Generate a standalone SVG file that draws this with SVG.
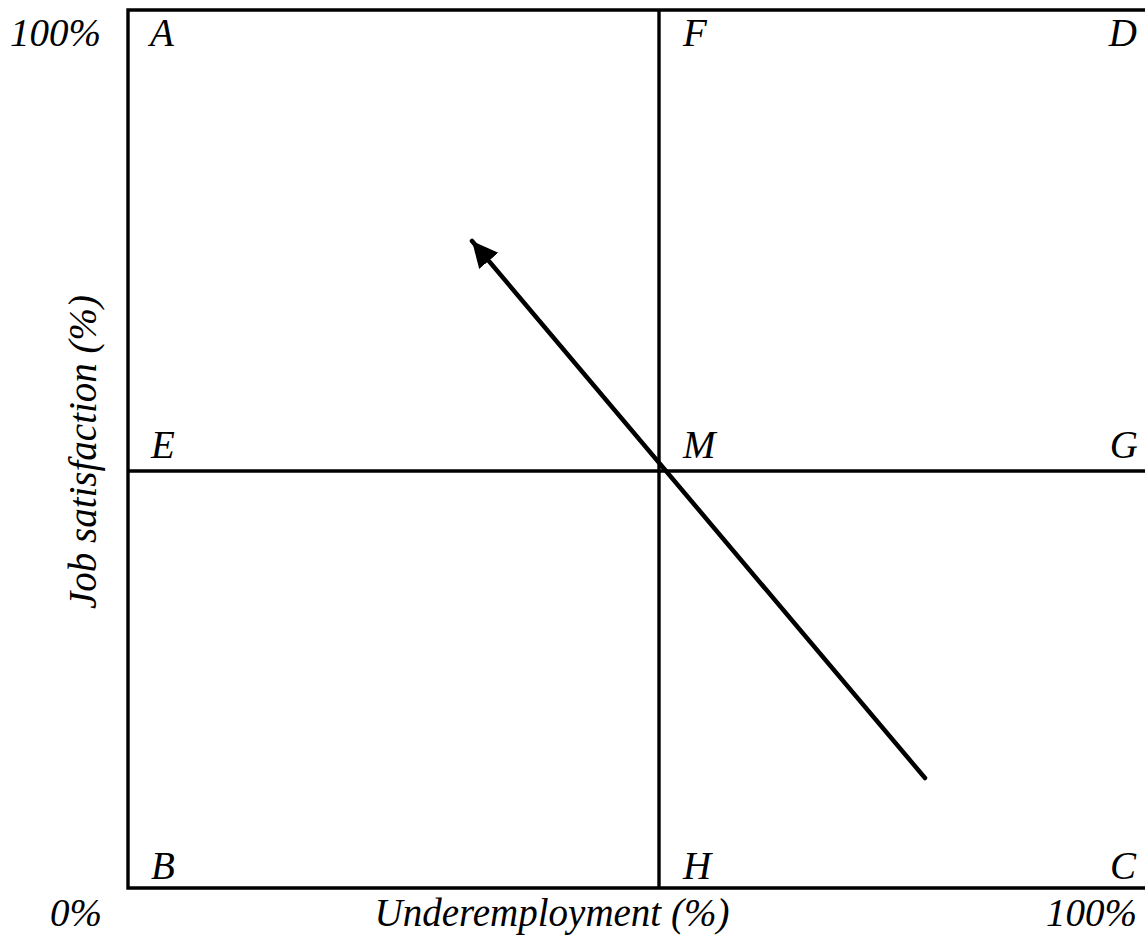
<svg xmlns="http://www.w3.org/2000/svg" width="1145" height="937" viewBox="0 0 1145 937">
<style>
.t{font-family:"Liberation Serif","Times New Roman",serif;font-style:italic;font-size:39px;fill:#000}
.ln{stroke:#000;stroke-width:3.4;fill:none}
.ar{stroke:#000;stroke-width:4.5;fill:none;stroke-linecap:round}
</style>
<defs>
<marker id="ah" markerUnits="userSpaceOnUse" markerWidth="30" markerHeight="30" refX="26" refY="12.5" orient="auto">
<path d="M0,0 L26,12.5 L0,25 Z" fill="#000"/>
</marker>
</defs>
<rect width="1145" height="937" fill="#fff"/>
<g id="frame">
<path class="ln" d="M1150,10 H128 V888 H1150"/>
<line class="ln" x1="659" y1="10" x2="659" y2="888"/>
<line class="ln" x1="128" y1="471" x2="1150" y2="471"/>
</g>
<g id="connectors">
<line class="ar" x1="925" y1="778" x2="472" y2="241" marker-end="url(#ah)"/>
</g>
<g id="labels">
<text class="t" x="10" y="46">100%</text>
<text class="t" x="150" y="46">A</text>
<text class="t" x="683" y="46">F</text>
<text class="t" x="1137" y="46" text-anchor="end">D</text>
<text class="t" x="151" y="458">E</text>
<text class="t" x="683" y="458">M</text>
<text class="t" x="1138" y="458" text-anchor="end">G</text>
<text class="t" x="151" y="879">B</text>
<text class="t" x="683" y="879">H</text>
<text class="t" x="1136" y="879" text-anchor="end">C</text>
<text class="t" x="50" y="926">0%</text>
<text class="t" x="552" y="926" text-anchor="middle">Underemployment (%)</text>
<text class="t" x="1137" y="926" text-anchor="end">100%</text>
<text class="t" transform="translate(96,452) rotate(-90)" text-anchor="middle">Job satisfaction (%)</text>
</g>
</svg>
